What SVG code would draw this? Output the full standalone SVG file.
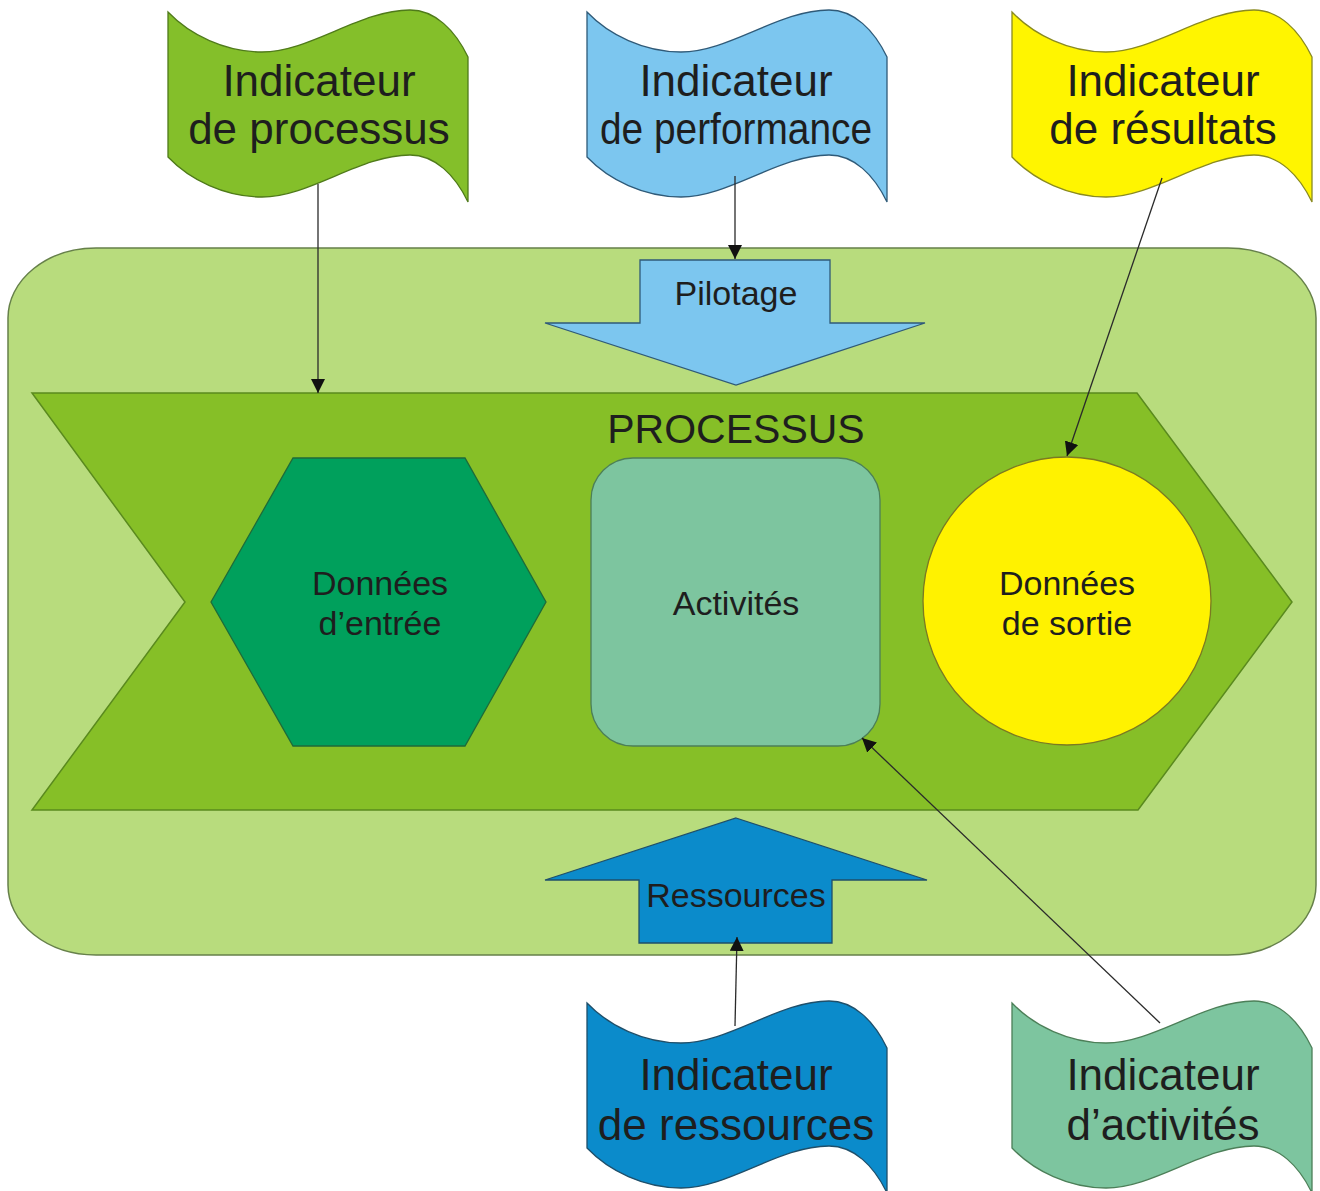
<svg xmlns="http://www.w3.org/2000/svg" width="1320" height="1191" viewBox="0 0 1320 1191">
  <style>
    text { font-family: "Liberation Sans", Arial, sans-serif; fill: #1e1e1e; text-anchor: middle; }
    .flag-text { font-size: 44px; }
    .label { font-size: 34px; }
    .title { font-size: 41px; }
    .conn { stroke: #2a2a2a; stroke-width: 1.3; fill: none; marker-end: url(#arrow); }
  </style>
  <defs>
    <!-- wavy banner used for every indicator -->
    <path id="wave" d="M0,0 C22,23 57,40 94,40 C142,40 192,-2 242,-2 C267,-2 287,18 300,45 L300,190 C287,163 267,143 242,143 C192,143 142,185 94,185 C57,185 22,168 0,145 Z"/>
    <marker id="arrow" markerUnits="userSpaceOnUse" markerWidth="14" markerHeight="14" refX="14" refY="7" orient="auto" viewBox="0 0 14 14">
      <path d="M0,0 L14,7 L0,14 Z" fill="#111"/>
    </marker>
  </defs>

  <rect width="1320" height="1191" fill="#ffffff"/>

  <!-- outer container -->
  <g id="container">
    <rect x="8" y="248" width="1308" height="707" rx="88" ry="70" fill="#b8dc7d" stroke="#66804a" stroke-width="1.5"/>
  </g>

  <!-- process chevron -->
  <g id="processus">
    <path d="M32,393 L1137,393 L1292,602 L1138,810 L32,810 L185,602 Z" fill="#86bf27" stroke="#5a8a1e" stroke-width="1.5"/>
    <text class="title" x="736" y="443">PROCESSUS</text>
  </g>

  <g id="donnees-entree">
    <path d="M211,602 L293,458 L465,458 L546,602 L465,746 L293,746 Z" fill="#00a05c" stroke="#1d6b3a" stroke-width="1.3"/>
    <text class="label" x="380" y="595">Données</text>
    <text class="label" x="380" y="635">d’entrée</text>
  </g>

  <g id="activites">
    <rect x="591" y="458" width="289" height="288" rx="42" ry="42" fill="#7dc59f" stroke="#4c7f58" stroke-width="1.3"/>
    <text class="label" x="736" y="615">Activités</text>
  </g>

  <g id="donnees-sortie">
    <circle cx="1067" cy="601" r="144" fill="#fff200" stroke="#7b7a22" stroke-width="1.3"/>
    <text class="label" x="1067" y="595">Données</text>
    <text class="label" x="1067" y="635">de sortie</text>
  </g>

  <g id="pilotage">
    <path d="M640,260 H830 V323 H925 L736,385 L545,323 H640 Z" fill="#7cc6ef" stroke="#2f5a78" stroke-width="1.3"/>
    <text class="label" x="736" y="305">Pilotage</text>
  </g>

  <g id="ressources">
    <path d="M736,818 L927,880 H832 V943 H639 V880 H545 Z" fill="#0b8bcb" stroke="#1f4f6a" stroke-width="1.3"/>
    <text class="label" x="736" y="907">Ressources</text>
  </g>

  <!-- indicator banners -->
  <g id="ind-processus">
    <use href="#wave" transform="translate(168,12)" fill="#84bf2a" stroke="#4f7a1a" stroke-width="1.3"/>
    <text class="flag-text" x="319" y="96">Indicateur</text>
    <text class="flag-text" x="319" y="144">de processus</text>
  </g>

  <g id="ind-performance">
    <use href="#wave" transform="translate(587,12)" fill="#7cc6ef" stroke="#2f5a78" stroke-width="1.3"/>
    <text class="flag-text" x="736" y="96">Indicateur</text>
    <text class="flag-text" x="736" y="144" textLength="272" lengthAdjust="spacingAndGlyphs">de performance</text>
  </g>

  <g id="ind-resultats">
    <use href="#wave" transform="translate(1012,12)" fill="#fff500" stroke="#8a8a20" stroke-width="1.3"/>
    <text class="flag-text" x="1163" y="96">Indicateur</text>
    <text class="flag-text" x="1163" y="144">de résultats</text>
  </g>

  <g id="ind-ressources">
    <use href="#wave" transform="translate(587,1003)" fill="#0b8bcb" stroke="#1f4f6a" stroke-width="1.3"/>
    <text class="flag-text" x="736" y="1090">Indicateur</text>
    <text class="flag-text" x="736" y="1140">de ressources</text>
  </g>

  <g id="ind-activites">
    <use href="#wave" transform="translate(1012,1003)" fill="#7dc59f" stroke="#4c7f58" stroke-width="1.3"/>
    <text class="flag-text" x="1163" y="1090">Indicateur</text>
    <text class="flag-text" x="1163" y="1140">d’activités</text>
  </g>

  <!-- connectors -->
  <g id="connectors">
    <line class="conn" x1="318" y1="184" x2="318" y2="393"/>
    <line class="conn" x1="735" y1="176" x2="735" y2="259"/>
    <line class="conn" x1="1162" y1="178" x2="1067" y2="456"/>
    <line class="conn" x1="735" y1="1026" x2="737" y2="937"/>
    <line class="conn" x1="1160" y1="1023" x2="862" y2="738"/>
  </g>
</svg>
